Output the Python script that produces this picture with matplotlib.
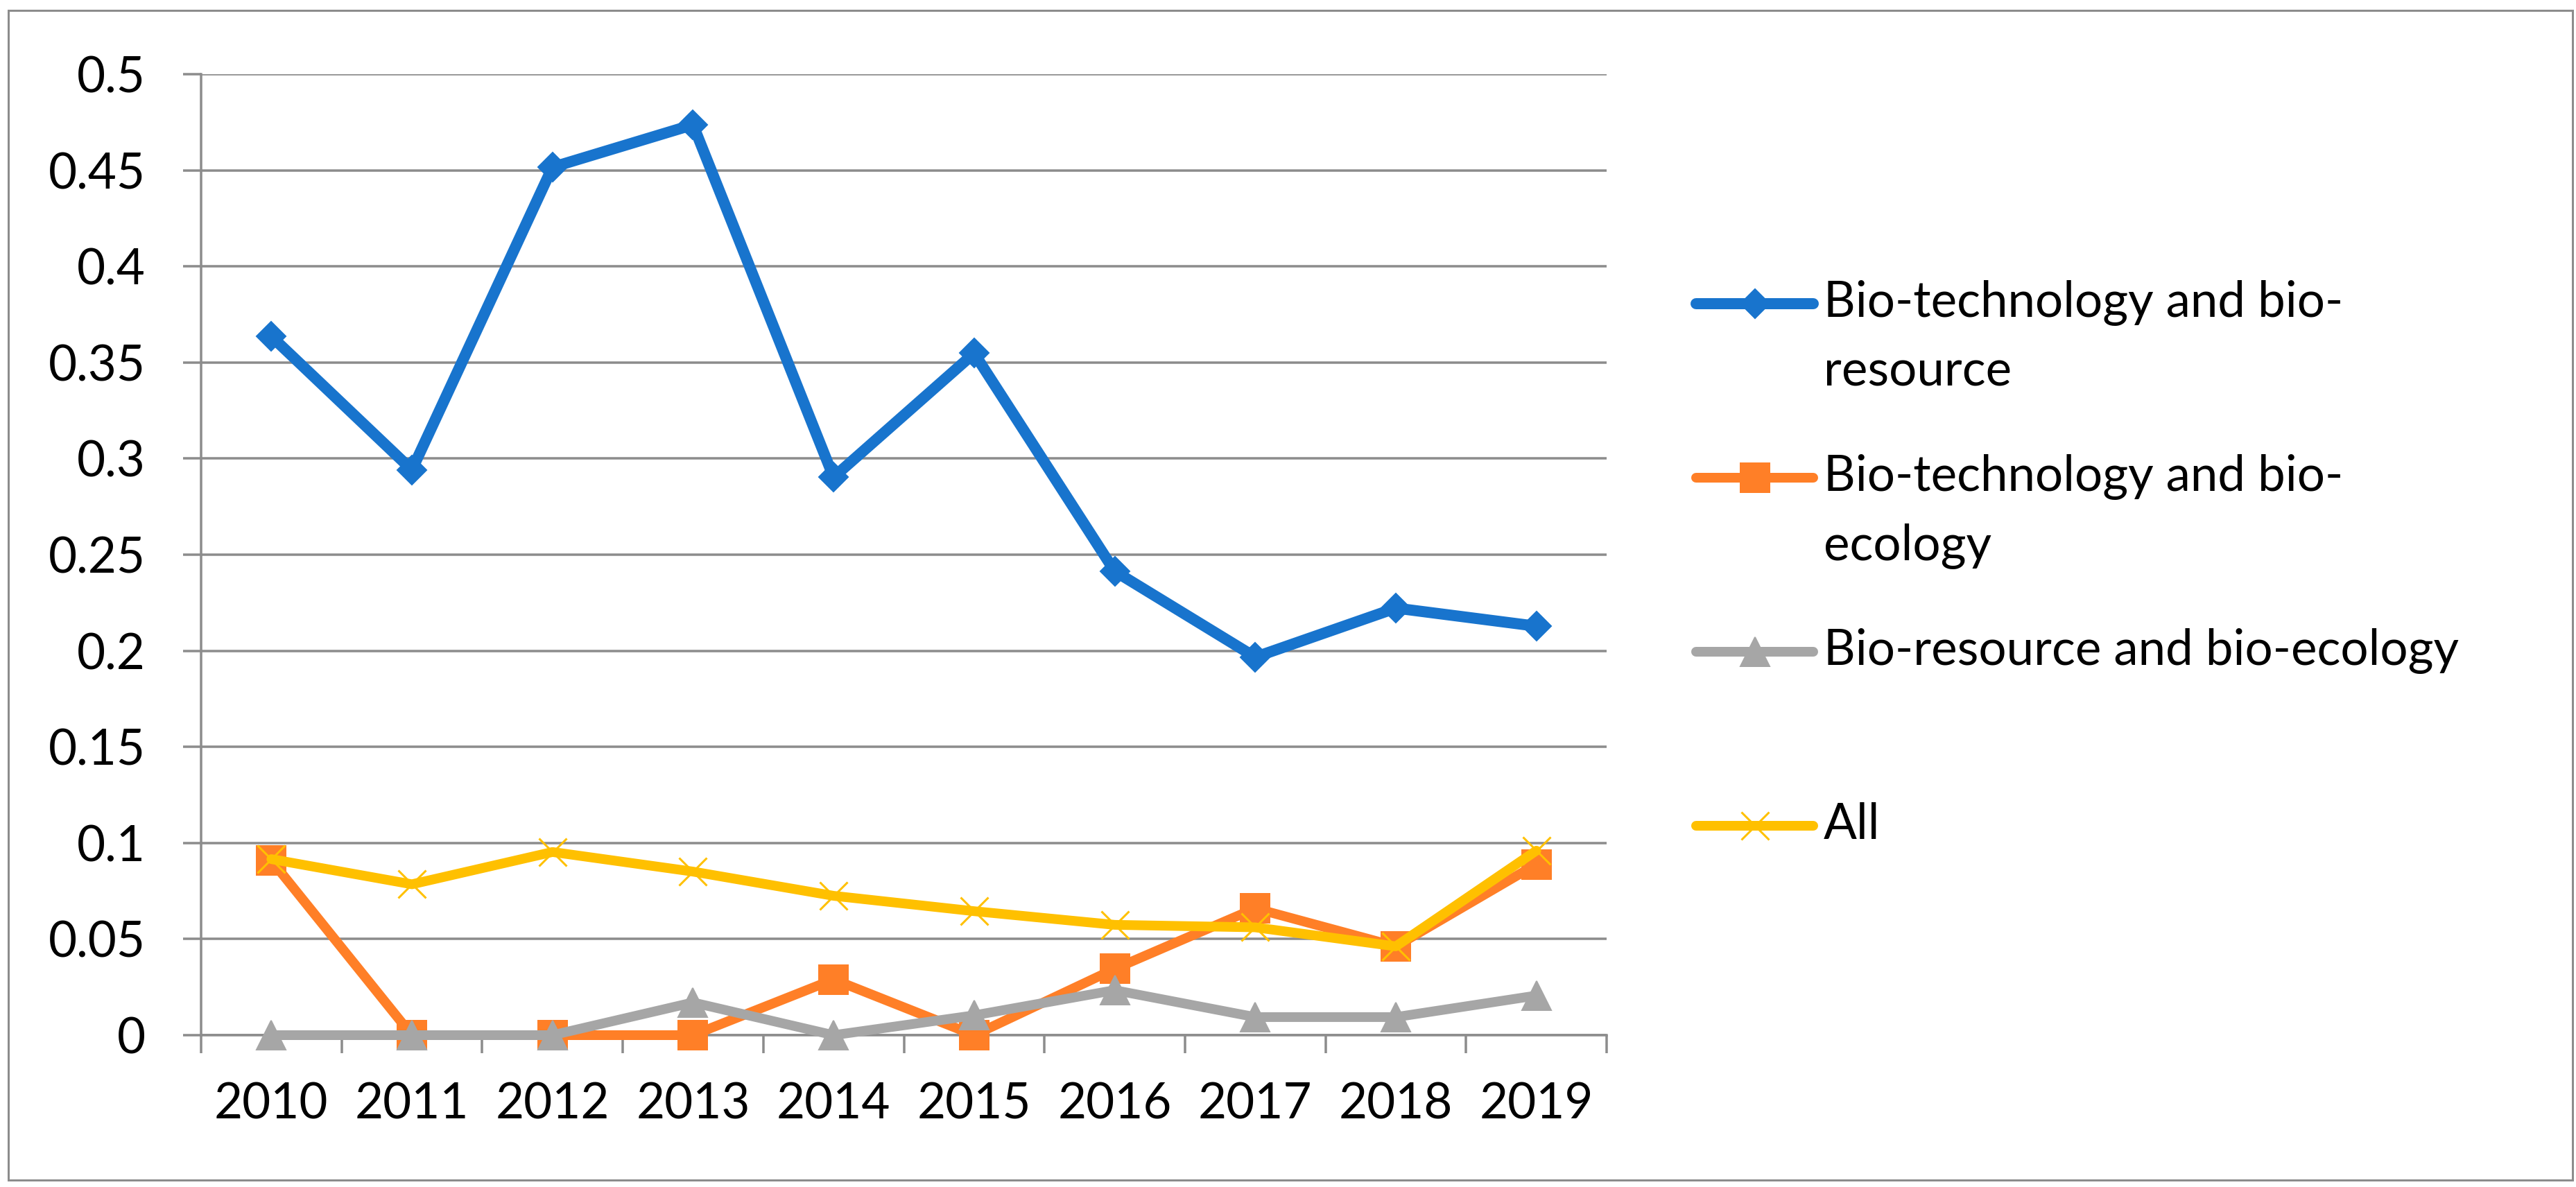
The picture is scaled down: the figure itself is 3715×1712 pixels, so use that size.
import numpy as np
import matplotlib
matplotlib.use('Agg')
import matplotlib.pyplot as plt
from matplotlib.legend_handler import HandlerLine2D
from matplotlib.patches import Rectangle
from matplotlib.ticker import FuncFormatter

# ---------------- data ----------------
years = ['2010', '2011', '2012', '2013', '2014', '2015', '2016', '2017', '2018', '2019']
bio_tech_resource = [0.3636, 0.2941, 0.4516, 0.4737, 0.2903, 0.3548, 0.2414, 0.1967, 0.2222, 0.2128]
bio_tech_ecology = [0.0909, 0.0, 0.0, 0.0, 0.0290, 0.0, 0.0345, 0.0660, 0.0462, 0.0889]
bio_resource_ecology = [0.0, 0.0, 0.0, 0.0170, 0.0, 0.0103, 0.0234, 0.0094, 0.0094, 0.0206]
all_fields = [0.0916, 0.0785, 0.0953, 0.0851, 0.0725, 0.0645, 0.0574, 0.0561, 0.0462, 0.0960]
series_labels = ['Bio-technology and bio-\nresource',
                 'Bio-technology and bio-\necology',
                 'Bio-resource and bio-ecology',
                 'All']
y_ticks = [0, 0.05, 0.1, 0.15, 0.2, 0.25, 0.3, 0.35, 0.4, 0.45, 0.5]

# ---------------- style ----------------
W, H = 3715, 1712
DPI = 100
PX = 72.0 / DPI  # points per pixel
plt.rcParams['font.family'] = ['Lato', 'DejaVu Sans']
FS = 51
GRID = '#8C8C8C'

fig = plt.figure(figsize=(W / DPI, H / DPI), dpi=DPI)
fig.patch.set_facecolor('white')

# outer border
fig.patches.append(Rectangle((12 / W, 1 - 1702 / H), (3710 - 12) / W, (1702 - 15) / H,
                             transform=fig.transFigure, fill=False,
                             edgecolor=GRID, lw=3 * PX))

ax = fig.add_axes([290 / W, 1 - 1493 / H, (2317 - 290) / W, (1493 - 107) / H])

x = np.arange(len(years))
styles = [
    dict(color='#1874CD', lw=16 * PX, marker='D', ms=30 * PX, mew=2 * PX, mec='#1874CD', mfc='#1874CD'),
    dict(color='#FF7F27', lw=14 * PX, marker='s', ms=42 * PX, mew=2 * PX, mec='#FF7F27', mfc='#FF7F27'),
    dict(color='#A6A6A6', lw=14 * PX, marker='^', ms=43 * PX, mew=2 * PX, mec='#A6A6A6', mfc='#A6A6A6'),
    dict(color='#FFC000', lw=14 * PX, marker='x', ms=40 * PX, mew=3 * PX, mec='#FFC000', mfc='#FFC000'),
]
series = [bio_tech_resource, bio_tech_ecology, bio_resource_ecology, all_fields]
lines = []
for i, (vals, lab, st) in enumerate(zip(series, series_labels, styles)):
    ln, = ax.plot(x, vals, label=lab, clip_on=False, zorder=3 + i,
                  solid_joinstyle='round', solid_capstyle='round', **st)
    lines.append(ln)

ax.set_xlim(-0.5, len(years) - 0.5)
ax.set_ylim(0, 0.5)
ax.set_yticks(y_ticks)
ax.yaxis.set_major_formatter(FuncFormatter(lambda v, p: f'{v:g}'))
ax.set_xticks(x)
ax.set_xticklabels(years)
ax.set_xticks(np.arange(-0.5, len(years), 1.0), minor=True)

ax.yaxis.grid(True, color=GRID, lw=3.5 * PX)
ax.set_axisbelow(True)
for s in ['top', 'right']:
    ax.spines[s].set_visible(False)
for s in ['left', 'bottom']:
    ax.spines[s].set_color(GRID)
    ax.spines[s].set_linewidth(3.5 * PX)

ax.tick_params(axis='y', which='major', length=26 * PX, width=3.5 * PX, color=GRID,
               pad=54 * PX, labelsize=FS)
ax.tick_params(axis='x', which='major', length=0, pad=68 * PX, labelsize=FS)
ax.tick_params(axis='x', which='minor', length=26 * PX, width=3.5 * PX, color=GRID)


class OffsetHandler(HandlerLine2D):
    def __init__(self, dy=0.0, **kw):
        super().__init__(**kw)
        self.dy = dy

    def create_artists(self, legend, orig_handle, xdescent, ydescent, width, height,
                       fontsize, trans):
        arts = super().create_artists(legend, orig_handle, xdescent, ydescent, width,
                                      height, fontsize, trans)
        for a in arts:
            a.set_ydata(np.asarray(a.get_ydata(), dtype=float) + self.dy)
        return arts


LINESTEP_PX = 100
leg_labels = [l if '\n' in l else l + '\n ' for l in series_labels]
handler = {ln: OffsetHandler(dy=LINESTEP_PX / 2 * PX) for ln in lines}
leg = ax.legend(lines, leg_labels, loc='upper left',
                bbox_to_anchor=(2446 / W, 1 - 404 / H), bbox_transform=fig.transFigure,
                frameon=False, borderpad=0, borderaxespad=0,
                handlelength=169 / (FS / PX), handletextpad=15 / (FS / PX),
                labelspacing=1.21, fontsize=FS, handler_map=handler)
for t in leg.get_texts():
    t.set_linespacing(1.64)

fig.savefig('out.png', dpi=DPI, facecolor='white')
